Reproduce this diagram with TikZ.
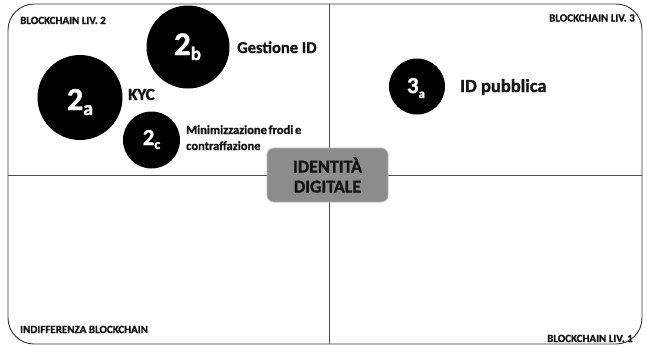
\documentclass[tikz,border=0pt]{standalone}
\usepackage{fontspec}
\setmainfont{Carlito}[BoldFeatures={FakeBold=1.2}]
\newfontfamily\tightfont{Carlito}[WordSpace=0.6,BoldFeatures={FakeBold=1.2}]
\definecolor{boxgray}{HTML}{8C8C8C}
\definecolor{rimgray}{HTML}{B4B4B4}
\definecolor{ink}{HTML}{141414}
\begin{document}
\begin{tikzpicture}[x=1pt,y=-1pt,
  frame/.style={draw=black!80,line width=0.9pt},
  axis/.style={draw=black!70,line width=0.8pt},
  bubble/.style={circle,fill=black,draw=none,inner sep=0pt},
  numeral/.style={text=white,inner sep=0pt,anchor=base,font=\bfseries},
  quad/.style={font=\bfseries\fontsize{11}{13}\selectfont,inner sep=0pt,text=ink},
  lbl/.style={font=\bfseries,inner sep=0pt,anchor=base west,text=ink},
  core/.style={rounded corners=7pt,fill=boxgray,draw=rimgray,line width=0.8pt,
    minimum width=121pt,minimum height=54pt,align=center,
    font=\bfseries\fontsize{18}{20}\selectfont,text=ink}]
\useasboundingbox (0,0) rectangle (647,346);
% outer frame and quadrant axes
\draw[frame,rounded corners=26pt] (8,4) rectangle (642,344);
\coordinate (top) at (329,4);
\coordinate (bottom) at (329,344);
\coordinate (left) at (8,175);
\coordinate (right) at (642,175);
\draw[axis] (top) -- (bottom);
\draw[axis] (left) -- (right);
% centre box
\node[core] (id) at (327.5,175) {IDENTITÀ\\DIGITALE};
% quadrant titles
\node[quad,anchor=base west] (q2) at (20,24) {BLOCKCHAIN LIV. 2};
\node[quad,anchor=base east] (q3) at (635,21.5) {BLOCKCHAIN LIV. 3};
\node[quad,anchor=base west] (q0) at (20,333) {INDIFFERENZA BLOCKCHAIN};
\node[quad,anchor=base east] (q1) at (633,342) {BLOCKCHAIN LIV. 1};
% bubbles
\node[bubble,minimum size=83pt] (b2b) at (188,47) {};
\node[bubble,minimum size=85pt] (b2a) at (80,97.5) {};
\node[bubble,minimum size=57pt] (b2c) at (151.5,140) {};
\node[bubble,minimum size=56pt] (b3a) at (417,86.5) {};
% bubble numerals
\node[numeral] (n2b) at (187.5,55) {{\fontsize{33}{33}\selectfont 2}\raisebox{-5pt}{\fontsize{19}{19}\selectfont b}};
\node[numeral] (n2a) at (80,110) {{\fontsize{32}{32}\selectfont 2}\raisebox{-5pt}{\fontsize{20}{20}\selectfont a}};
\node[numeral] (n2c) at (151.5,145) {{\fontsize{23}{23}\selectfont 2}\raisebox{-4pt}{\fontsize{14}{14}\selectfont c}};
\node[numeral] (n3a) at (416,93) {{\fontsize{23}{23}\selectfont 3}\raisebox{-5pt}{\fontsize{13}{13}\selectfont a}};
% bubble labels
\node[lbl,font=\bfseries\fontsize{16.5}{18}\selectfont] (l2b) at (237,53) {Gestione ID};
\node[lbl,font=\bfseries\fontsize{17}{18}\selectfont] (l2a) at (128,100) {KYC};
\node[lbl,font=\tightfont\bfseries\fontsize{12.5}{16}\selectfont,align=left] (l2c) at (186,150) {Minimizzazione frodi e\\contraffazione};
\node[lbl,font=\bfseries\fontsize{18.5}{20}\selectfont] (l3a) at (460,92) {ID pubblica};
\end{tikzpicture}
\end{document}
